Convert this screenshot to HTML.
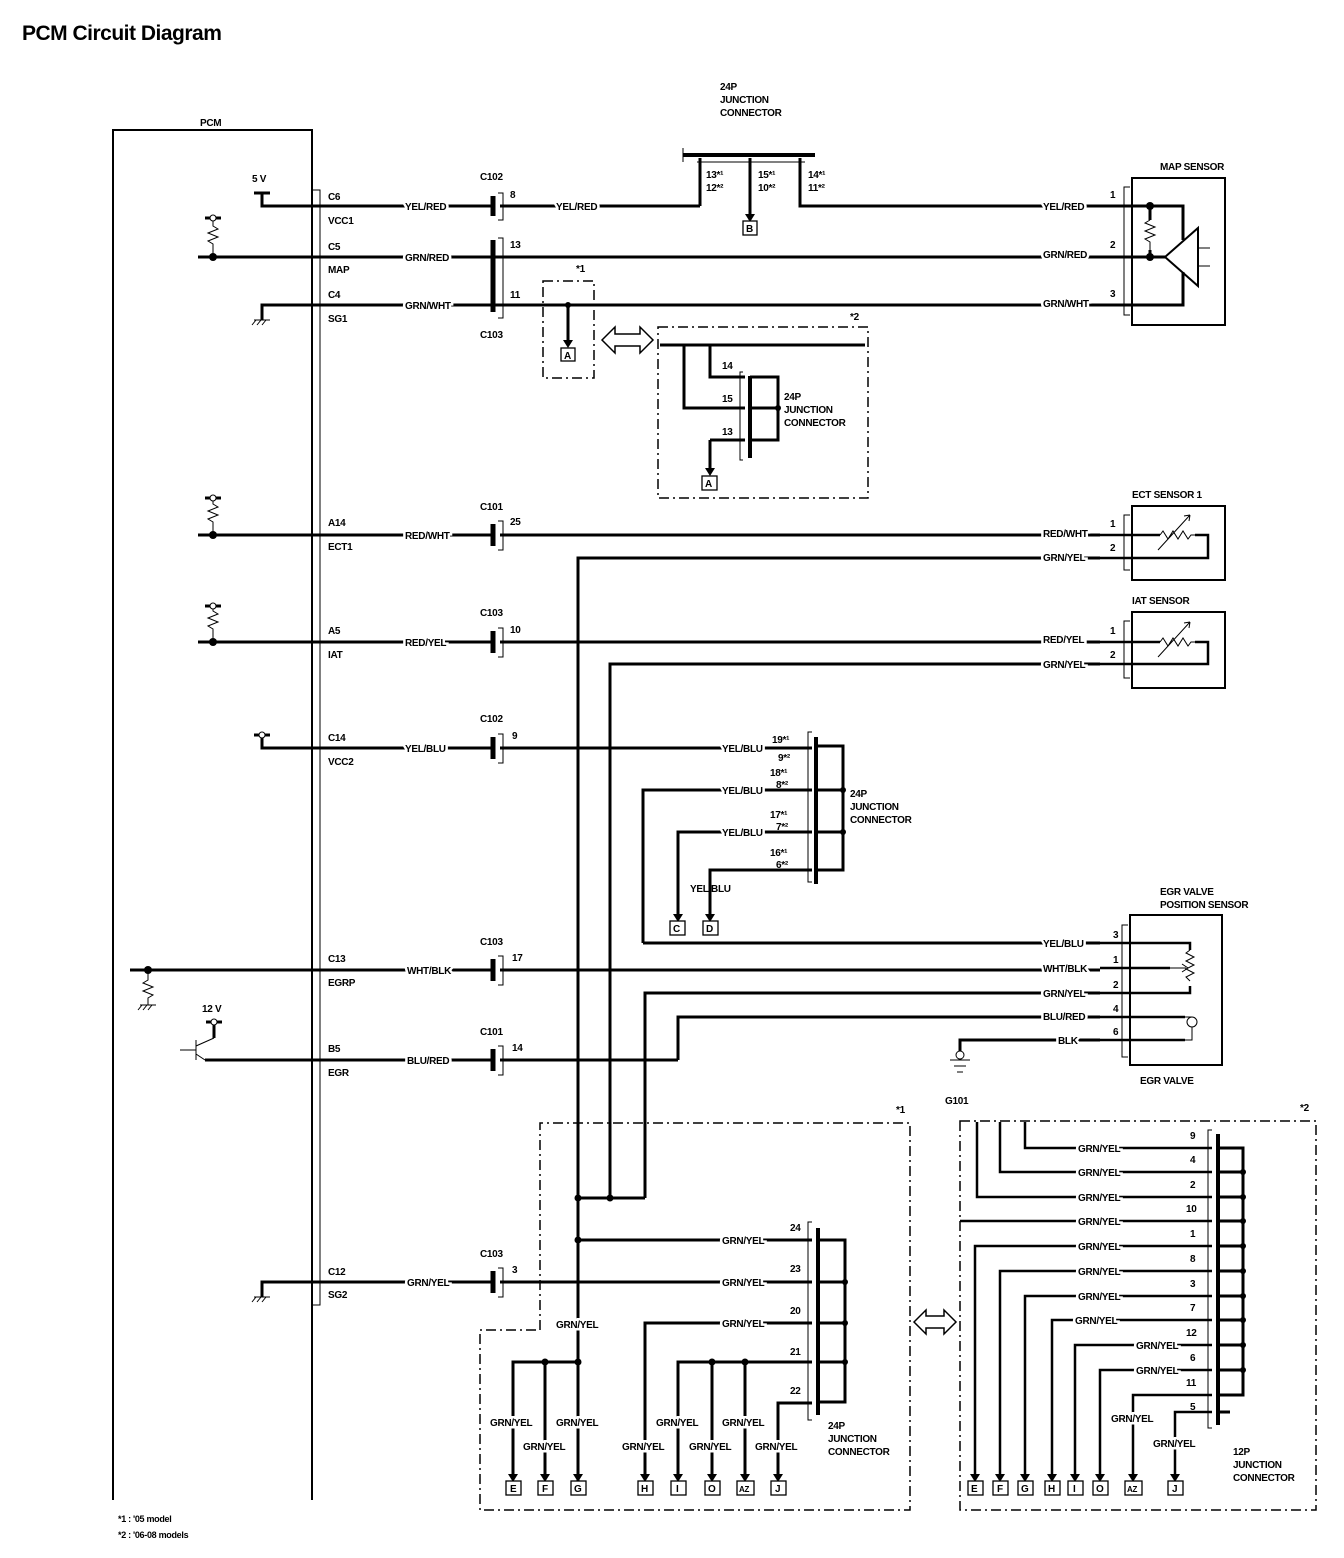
<!DOCTYPE html>
<html><head><meta charset="utf-8"><style>
html,body{margin:0;padding:0;background:#fff;}
svg{display:block;}
text{font-family:"Liberation Sans",sans-serif;font-weight:bold;font-size:10px;fill:#000;letter-spacing:-0.3px;}
.lb{paint-order:stroke;stroke:#fff;stroke-width:5px;}
.w{stroke:#000;stroke-width:3;fill:none;}
.t{stroke:#000;stroke-width:1;fill:none;}
.d{stroke:#000;stroke-width:1.5;fill:none;stroke-dasharray:10 4 2 4;}
.bx{fill:#fff;stroke:#000;stroke-width:1.3;}
</style></head><body>
<svg width="1344" height="1558" viewBox="0 0 1344 1558" xmlns="http://www.w3.org/2000/svg">
<text x="22" y="40" style="font-size:21px;letter-spacing:-0.5px">PCM Circuit Diagram</text>

<!-- PCM -->
<text x="200" y="126">PCM</text>
<path class="w" d="M113,1500 V130 H312 V1500" style="stroke-width:2"/>
<path class="t" d="M312,190 H320 V1305 H312"/>

<!-- ROW C6 -->
<text x="252" y="182">5 V</text>
<path class="w" d="M254,193 H270 M262,193 V206 H493"/>
<text x="328" y="200">C6</text><text x="328" y="224">VCC1</text>
<path class="w" d="M500,206 H700"/>
<path d="M493,196 V216" stroke="#000" stroke-width="5"/>
<path class="t" d="M498,193 H503 V220 H498"/>
<text x="480" y="180">C102</text><text x="510" y="198">8</text>
<text x="405" y="210" class="lb">YEL/RED</text><text x="556" y="210" class="lb">YEL/RED</text>

<!-- top junction -->
<text x="720" y="90">24P</text><text x="720" y="103">JUNCTION</text><text x="720" y="116">CONNECTOR</text>
<path d="M683,155 H815" stroke="#000" stroke-width="4"/>
<path class="t" d="M683,148 V162 M697,162 H805"/>
<path class="w" d="M700,158 V206 M750,158 V220 M800,158 V206 H1100"/>
<path d="M745,214 L755,214 L750,222 Z"/>
<rect x="743" y="221" width="14" height="14" class="bx"/><text x="746" y="232">B</text>
<text x="706" y="178">13*¹</text><text x="706" y="191">12*²</text>
<text x="758" y="178">15*¹</text><text x="758" y="191">10*²</text>
<text x="808" y="178">14*¹</text><text x="808" y="191">11*²</text>

<!-- C5 MAP -->
<path class="w" d="M198,257 H1100"/>
<circle cx="213" cy="257" r="4"/>
<path class="t" d="M213,257 V244 l-5,-3 l10,-4 l-10,-4 l10,-4 l-5,-3 V218"/>
<path class="w" d="M205,218 H221"/><circle cx="213" cy="218" r="3" fill="#fff" stroke="#000"/>
<text x="328" y="250">C5</text><text x="328" y="273">MAP</text>
<path d="M493,240 V312" stroke="#000" stroke-width="5"/>
<path class="t" d="M498,238 H503 V318 H498"/>
<text x="510" y="248">13</text><text x="510" y="298">11</text><text x="480" y="338">C103</text>
<text x="405" y="261" class="lb">GRN/RED</text>
<!-- C4 -->
<path class="w" d="M262,320 V305 H1100"/>
<path class="t" d="M254,320 H270 M256,320 l-4,5 M261,320 l-4,5 M266,320 l-4,5"/>
<text x="328" y="298">C4</text><text x="328" y="322">SG1</text>
<text x="405" y="309" class="lb">GRN/WHT</text>
<text x="1043" y="210" class="lb">YEL/RED</text><text x="1043" y="258" class="lb">GRN/RED</text><text x="1043" y="307" class="lb">GRN/WHT</text>
<text x="1110" y="198">1</text><text x="1110" y="248">2</text><text x="1110" y="297">3</text>

<!-- MAP sensor -->
<text x="1160" y="170">MAP SENSOR</text>
<rect x="1132" y="178" width="93" height="147" class="bx" style="stroke-width:2"/>
<path class="t" d="M1130,187 H1124 V315 H1130"/>
<path class="w" d="M1100,206 H1183 V240 M1100,257 H1165 M1100,305 H1183 V272"/>
<path class="w" d="M1150,206 V220 M1150,250 V257"/>
<path class="t" d="M1150,220 l-5,3 l10,4 l-10,4 l10,4 l-10,4 l5,3 V250"/>
<circle cx="1150" cy="206" r="4"/><circle cx="1150" cy="257" r="4"/>
<path class="w" d="M1165,257 L1198,228 V286 Z" style="stroke-width:2"/>
<path class="t" d="M1198,248 H1210 M1198,266 H1210"/>

<!-- *1 box top -->
<rect x="543" y="281" width="51" height="97" class="d"/><text x="576" y="272">*1</text>
<circle cx="568" cy="305" r="3"/><path class="w" d="M568,305 V342"/><path d="M563,340 L573,340 L568,348 Z"/>
<rect x="561" y="348" width="14" height="13" class="bx"/><text x="564" y="359">A</text>
<path d="M602,340 L615,327 V334 H640 V327 L653,340 L640,353 V346 H615 V353 Z" fill="#fff" stroke="#000" stroke-width="1.5"/>
<!-- *2 box top -->
<rect x="658" y="327" width="210" height="171" class="d"/><text x="850" y="320">*2</text>
<path class="w" d="M660,345 H865 M684,345 V408 H745 M710,345 V377 H745 M710,440 H745 M710,440 V470"/>
<path d="M705,468 L715,468 L710,476 Z"/>
<rect x="702" y="476" width="15" height="14" class="bx"/><text x="705" y="487">A</text>
<path class="t" d="M743,372 H740 V460 H743"/>
<path d="M750,376 V458" stroke="#000" stroke-width="4"/>
<path class="w" d="M750,377 H778 V440 H750 M750,408 H778"/><circle cx="778" cy="408" r="3"/>
<text x="722" y="369">14</text><text x="722" y="402">15</text><text x="722" y="435">13</text>
<text x="784" y="400">24P</text><text x="784" y="413">JUNCTION</text><text x="784" y="426">CONNECTOR</text>

<!-- A14 ECT -->
<path class="w" d="M198,535 H493 M500,535 H1100"/>
<circle cx="213" cy="535" r="4"/>
<path class="t" d="M213,535 V522 l-5,-3 l10,-4 l-10,-4 l10,-4 l-5,-3 V498"/>
<path class="w" d="M205,498 H221"/><circle cx="213" cy="498" r="3" fill="#fff" stroke="#000"/>
<text x="328" y="526">A14</text><text x="328" y="550">ECT1</text>
<path d="M493,524 V546" stroke="#000" stroke-width="5"/><path class="t" d="M498,521 H503 V550 H498"/>
<text x="480" y="510">C101</text><text x="510" y="525">25</text>
<text x="405" y="539" class="lb">RED/WHT</text>
<path class="w" d="M578,1485 V558 H1100"/>
<text x="1043" y="537" class="lb">RED/WHT</text><text x="1043" y="561" class="lb">GRN/YEL</text>
<text x="1110" y="527">1</text><text x="1110" y="551">2</text>
<text x="1132" y="498">ECT SENSOR 1</text>
<rect x="1132" y="506" width="93" height="74" class="bx" style="stroke-width:2"/>
<path class="t" d="M1130,515 H1124 V570 H1130"/>
<path class="w" d="M1100,535 H1160 M1100,558 H1208 V535 H1195" style="stroke-width:2.5"/>
<path class="t" d="M1160,535 l3,-4 l5,8 l5,-8 l5,8 l5,-8 l5,8 l3,-4 H1195 M1158,550 L1190,515 M1190,515 l-6,1 M1190,515 l-1,6"/>

<!-- A5 IAT -->
<path class="w" d="M198,642 H493 M500,642 H1100"/>
<circle cx="213" cy="642" r="4"/>
<path class="t" d="M213,642 V629 l-5,-3 l10,-4 l-10,-4 l10,-4 l-5,-3 V606"/>
<path class="w" d="M205,606 H221"/><circle cx="213" cy="606" r="3" fill="#fff" stroke="#000"/>
<text x="328" y="634">A5</text><text x="328" y="658">IAT</text>
<path d="M493,631 V653" stroke="#000" stroke-width="5"/><path class="t" d="M498,628 H503 V657 H498"/>
<text x="480" y="616">C103</text><text x="510" y="633">10</text>
<text x="405" y="646" class="lb">RED/YEL</text>
<path class="w" d="M610,1198 V664 H1100"/>
<text x="1043" y="643" class="lb">RED/YEL</text><text x="1043" y="668" class="lb">GRN/YEL</text>
<text x="1110" y="634">1</text><text x="1110" y="658">2</text>
<text x="1132" y="604">IAT SENSOR</text>
<rect x="1132" y="612" width="93" height="76" class="bx" style="stroke-width:2"/>
<path class="t" d="M1130,621 H1124 V678 H1130"/>
<path class="w" d="M1100,642 H1160 M1100,664 H1208 V642 H1195" style="stroke-width:2.5"/>
<path class="t" d="M1160,642 l3,-4 l5,8 l5,-8 l5,8 l5,-8 l5,8 l3,-4 H1195 M1158,657 L1190,622 M1190,622 l-6,1 M1190,622 l-1,6"/>

<!-- C14 VCC2 -->
<path class="w" d="M254,735 H270 M262,735 V748 H493 M500,748 H812"/>
<circle cx="262" cy="735" r="3" fill="#fff" stroke="#000"/>
<text x="328" y="741">C14</text><text x="328" y="765">VCC2</text>
<path d="M493,737 V759" stroke="#000" stroke-width="5"/><path class="t" d="M498,734 H503 V763 H498"/>
<text x="480" y="722">C102</text><text x="512" y="739">9</text>
<text x="405" y="752" class="lb">YEL/BLU</text><text x="722" y="752" class="lb">YEL/BLU</text>
<path class="w" d="M643,943 V790 H812 M678,915 V832 H812 M710,915 V870 H812"/>
<path d="M673,914 L683,914 L678,922 Z"/><path d="M705,914 L715,914 L710,922 Z"/>
<rect x="670" y="921" width="15" height="14" class="bx"/><text x="673" y="932">C</text>
<rect x="703" y="921" width="15" height="14" class="bx"/><text x="706" y="932">D</text>
<text x="722" y="794" class="lb">YEL/BLU</text><text x="722" y="836" class="lb">YEL/BLU</text>
<text x="690" y="892">YEL/BLU</text>
<path class="t" d="M812,732 H808 V882 H812"/>
<path d="M816,737 V884" stroke="#000" stroke-width="4"/>
<path class="w" d="M816,746 H843 V870 H816 M816,790 H843 M816,832 H843"/>
<circle cx="843" cy="790" r="3"/><circle cx="843" cy="832" r="3"/>
<text x="772" y="743" class="lb">19*¹</text><text x="778" y="761" class="lb">9*²</text>
<text x="770" y="776">18*¹</text><text x="776" y="788">8*²</text>
<text x="770" y="818">17*¹</text><text x="776" y="830">7*²</text>
<text x="770" y="856">16*¹</text><text x="776" y="868">6*²</text>
<text x="850" y="797">24P</text><text x="850" y="810">JUNCTION</text><text x="850" y="823">CONNECTOR</text>

<!-- EGR sensor -->
<path class="w" d="M643,943 H1100"/>
<text x="1160" y="895">EGR VALVE</text><text x="1160" y="908">POSITION SENSOR</text>
<rect x="1130" y="915" width="92" height="150" class="bx" style="stroke-width:2"/>
<path class="t" d="M1128,925 H1122 V1057 H1128"/>
<path class="w" d="M1100,943 H1190 V950 M1100,993 H1190 V986 M1100,968 H1170 M1100,1017 H1185 M1100,1040 H1185" style="stroke-width:2.5"/>
<path class="t" d="M1190,950 l-4,3 l8,4 l-8,4 l8,4 l-8,4 l8,4 l-8,4 l4,4 M1170,968 H1186 M1182,964 L1188,968 L1182,972"/>
<path class="t" d="M1185,1017 H1192 a5,5 0 0 1 0,10 a5,5 0 0 1 0,-10 M1192,1027 V1040 H1185"/>
<text x="1113" y="938">3</text><text x="1113" y="963">1</text><text x="1113" y="988">2</text><text x="1113" y="1012">4</text><text x="1113" y="1035">6</text>
<text x="1140" y="1084">EGR VALVE</text>

<!-- C13 EGRP -->
<path class="w" d="M130,970 H493 M500,970 H1100"/>
<circle cx="148" cy="970" r="4"/>
<path class="t" d="M148,970 V980 l-5,3 l10,4 l-10,4 l10,4 l-5,3 V1005 M140,1005 H156 M142,1005 l-4,5 M147,1005 l-4,5 M152,1005 l-4,5"/>
<text x="328" y="962">C13</text><text x="328" y="986">EGRP</text>
<path d="M493,959 V981" stroke="#000" stroke-width="5"/><path class="t" d="M498,956 H503 V985 H498"/>
<text x="480" y="945">C103</text><text x="512" y="961">17</text>
<text x="407" y="974" class="lb">WHT/BLK</text>
<path class="w" d="M645,1198 V993 H1100 M678,1060 V1017 H1100"/>

<!-- BLK ground -->
<path class="w" d="M960,1060 V1040 H1100"/>
<path class="t" d="M950,1060 H970 M954,1066 H966 M957,1072 H963"/>
<circle cx="960" cy="1055" r="4" fill="#fff" stroke="#000"/>
<text x="945" y="1104">G101</text>

<text x="1043" y="947" class="lb">YEL/BLU</text><text x="1043" y="972" class="lb">WHT/BLK</text><text x="1043" y="997" class="lb">GRN/YEL</text><text x="1043" y="1020" class="lb">BLU/RED</text><text x="1058" y="1044" class="lb">BLK</text>

<!-- B5 EGR -->
<text x="202" y="1012">12 V</text>
<path class="w" d="M206,1022 H222 M214,1022 V1038"/>
<circle cx="214" cy="1022" r="3" fill="#fff" stroke="#000"/>
<path class="t" d="M180,1050 H196 M196,1040 V1060 M196,1046 L214,1038 M196,1054 L205,1060"/>
<path class="w" d="M205,1060 H493 M500,1060 H678"/>
<text x="328" y="1052">B5</text><text x="328" y="1076">EGR</text>
<path d="M493,1049 V1071" stroke="#000" stroke-width="5"/><path class="t" d="M498,1046 H503 V1075 H498"/>
<text x="480" y="1035">C101</text><text x="512" y="1051">14</text>
<text x="407" y="1064" class="lb">BLU/RED</text>

<!-- lower box *1 -->
<path class="d" d="M540,1330 V1123 H910 V1510 H480 V1330 Z"/>
<text x="896" y="1113">*1</text>
<path class="w" d="M578,1198 H645"/><circle cx="578" cy="1198" r="3.5"/><circle cx="610" cy="1198" r="3.5"/>
<path class="w" d="M578,1240 H812"/><circle cx="578" cy="1240" r="3.5"/>
<path class="w" d="M262,1297 V1282 H493 M500,1282 H812"/>
<path class="t" d="M254,1297 H270 M256,1297 l-4,5 M261,1297 l-4,5 M266,1297 l-4,5"/>
<text x="328" y="1275">C12</text><text x="328" y="1298">SG2</text>
<path d="M493,1271 V1293" stroke="#000" stroke-width="5"/><path class="t" d="M498,1268 H503 V1297 H498"/>
<text x="480" y="1257">C103</text><text x="512" y="1273">3</text>
<text x="407" y="1286" class="lb">GRN/YEL</text>
<path class="w" d="M645,1478 V1323 H812 M678,1478 V1362 H812 M712,1478 V1362 M745,1478 V1362 M778,1478 V1403 H812"/>
<path class="w" d="M513,1478 V1362 H578 M545,1478 V1362"/>
<circle cx="545" cy="1362" r="3.5"/><circle cx="578" cy="1362" r="3.5"/><circle cx="712" cy="1362" r="3.5"/><circle cx="745" cy="1362" r="3.5"/>
<text x="722" y="1244" class="lb">GRN/YEL</text><text x="722" y="1286" class="lb">GRN/YEL</text><text x="722" y="1327" class="lb">GRN/YEL</text>
<text x="556" y="1328" class="lb">GRN/YEL</text>
<text x="790" y="1231">24</text><text x="790" y="1272">23</text><text x="790" y="1314">20</text><text x="790" y="1355">21</text><text x="790" y="1394">22</text>
<path class="t" d="M812,1222 H808 V1420 H812"/>
<path d="M818,1228 V1415" stroke="#000" stroke-width="4"/>
<path class="w" d="M818,1240 H845 V1402 H818 M818,1282 H845 M818,1323 H845 M818,1362 H845"/>
<circle cx="845" cy="1282" r="3"/><circle cx="845" cy="1323" r="3"/><circle cx="845" cy="1362" r="3"/>
<text x="828" y="1429">24P</text><text x="828" y="1442">JUNCTION</text><text x="828" y="1455">CONNECTOR</text>
<text x="490" y="1426" class="lb">GRN/YEL</text><text x="556" y="1426" class="lb">GRN/YEL</text><text x="523" y="1450" class="lb">GRN/YEL</text>
<text x="622" y="1450" class="lb">GRN/YEL</text><text x="656" y="1426" class="lb">GRN/YEL</text><text x="689" y="1450" class="lb">GRN/YEL</text><text x="722" y="1426" class="lb">GRN/YEL</text><text x="755" y="1450" class="lb">GRN/YEL</text>
<g>
<path d="M508,1474 L518,1474 L513,1482 Z M540,1474 L550,1474 L545,1482 Z M573,1474 L583,1474 L578,1482 Z M640,1474 L650,1474 L645,1482 Z M673,1474 L683,1474 L678,1482 Z M707,1474 L717,1474 L712,1482 Z M740,1474 L750,1474 L745,1482 Z M773,1474 L783,1474 L778,1482 Z"/>
<rect x="506" y="1481" width="15" height="14" class="bx"/><text x="510" y="1492">E</text>
<rect x="538" y="1481" width="15" height="14" class="bx"/><text x="542" y="1492">F</text>
<rect x="571" y="1481" width="15" height="14" class="bx"/><text x="574" y="1492">G</text>
<rect x="638" y="1481" width="15" height="14" class="bx"/><text x="641" y="1492">H</text>
<rect x="671" y="1481" width="15" height="14" class="bx"/><text x="676" y="1492">I</text>
<rect x="705" y="1481" width="15" height="14" class="bx"/><text x="708" y="1492">O</text>
<rect x="737" y="1481" width="17" height="14" class="bx"/><text x="739" y="1492" style="font-size:8px">AZ</text>
<rect x="771" y="1481" width="15" height="14" class="bx"/><text x="775" y="1492">J</text>
</g>

<path d="M914,1322 L926,1310 V1316 H944 V1310 L956,1322 L944,1334 V1328 H926 V1334 Z" fill="#fff" stroke="#000" stroke-width="1.5"/>

<!-- right box *2 -->
<rect x="960" y="1121" width="356" height="389" class="d"/><text x="1300" y="1111">*2</text>
<path class="w" d="M1025,1122 V1148 H1212 M1000,1122 V1172 H1212 M977,1122 V1197 H1212 M960,1221 H1212
M975,1478 V1246 H1212 M1000,1478 V1271 H1212 M1025,1478 V1296 H1212 M1052,1478 V1320 H1212 M1075,1478 V1345 H1212 M1100,1478 V1370 H1212 M1133,1478 V1395 H1212 M1175,1478 V1412 H1212" style="stroke-width:2.5"/>
<path class="t" d="M1212,1130 H1208 V1428 H1212"/>
<path d="M1218,1134 V1425" stroke="#000" stroke-width="4"/>
<path class="w" d="M1218,1148 H1243 V1395 H1218 M1218,1172 H1243 M1218,1197 H1243 M1218,1221 H1243 M1218,1246 H1243 M1218,1271 H1243 M1218,1296 H1243 M1218,1320 H1243 M1218,1345 H1243 M1218,1370 H1243 M1218,1412 H1230"/>
<g fill="#000"><circle cx="1243" cy="1172" r="3"/><circle cx="1243" cy="1197" r="3"/><circle cx="1243" cy="1221" r="3"/><circle cx="1243" cy="1246" r="3"/><circle cx="1243" cy="1271" r="3"/><circle cx="1243" cy="1296" r="3"/><circle cx="1243" cy="1320" r="3"/><circle cx="1243" cy="1345" r="3"/><circle cx="1243" cy="1370" r="3"/></g>
<text x="1190" y="1139">9</text><text x="1190" y="1163">4</text><text x="1190" y="1188">2</text><text x="1186" y="1212">10</text><text x="1190" y="1237">1</text><text x="1190" y="1262">8</text><text x="1190" y="1287">3</text><text x="1190" y="1311">7</text><text x="1186" y="1336">12</text><text x="1190" y="1361">6</text><text x="1186" y="1386">11</text><text x="1190" y="1410">5</text>
<text x="1078" y="1152" class="lb">GRN/YEL</text><text x="1078" y="1176" class="lb">GRN/YEL</text><text x="1078" y="1201" class="lb">GRN/YEL</text><text x="1078" y="1225" class="lb">GRN/YEL</text><text x="1078" y="1250" class="lb">GRN/YEL</text><text x="1078" y="1275" class="lb">GRN/YEL</text><text x="1078" y="1300" class="lb">GRN/YEL</text><text x="1075" y="1324" class="lb">GRN/YEL</text><text x="1136" y="1349" class="lb">GRN/YEL</text><text x="1136" y="1374" class="lb">GRN/YEL</text>
<text x="1111" y="1422" class="lb">GRN/YEL</text><text x="1153" y="1447" class="lb">GRN/YEL</text>
<text x="1233" y="1455">12P</text><text x="1233" y="1468">JUNCTION</text><text x="1233" y="1481">CONNECTOR</text>
<g>
<path d="M970,1474 L980,1474 L975,1482 Z M995,1474 L1005,1474 L1000,1482 Z M1020,1474 L1030,1474 L1025,1482 Z M1047,1474 L1057,1474 L1052,1482 Z M1070,1474 L1080,1474 L1075,1482 Z M1095,1474 L1105,1474 L1100,1482 Z M1128,1474 L1138,1474 L1133,1482 Z M1170,1474 L1180,1474 L1175,1482 Z"/>
<rect x="968" y="1481" width="15" height="14" class="bx"/><text x="971" y="1492">E</text>
<rect x="993" y="1481" width="15" height="14" class="bx"/><text x="997" y="1492">F</text>
<rect x="1018" y="1481" width="15" height="14" class="bx"/><text x="1021" y="1492">G</text>
<rect x="1045" y="1481" width="15" height="14" class="bx"/><text x="1048" y="1492">H</text>
<rect x="1068" y="1481" width="15" height="14" class="bx"/><text x="1073" y="1492">I</text>
<rect x="1093" y="1481" width="15" height="14" class="bx"/><text x="1096" y="1492">O</text>
<rect x="1125" y="1481" width="17" height="14" class="bx"/><text x="1127" y="1492" style="font-size:8px">AZ</text>
<rect x="1168" y="1481" width="15" height="14" class="bx"/><text x="1172" y="1492">J</text>
</g>

<text x="118" y="1522" style="font-size:9px">*1 : '05 model</text>
<text x="118" y="1538" style="font-size:9px">*2 : '06-08 models</text>
</svg>
</body></html>
